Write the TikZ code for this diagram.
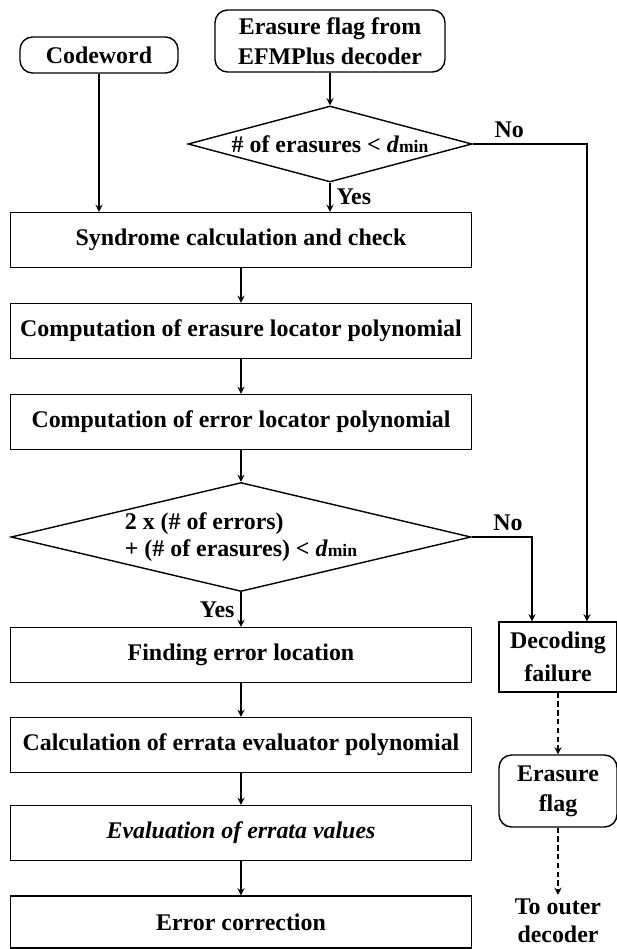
\documentclass[tikz,border=0pt]{standalone}
\usepackage{fontspec}
\setmainfont{Liberation Serif}
\usetikzlibrary{shapes.geometric}

\newcommand{\dmin}{\textit{d}{\fontsize{10}{12}\selectfont min}}

\begin{document}
\begin{tikzpicture}[x=0.02cm,y=-0.02cm,>=stealth,line width=0.8pt,
    every node/.style={font=\fontsize{13.6}{17}\selectfont\bfseries},
    box/.style={draw,minimum width=9.22cm,minimum height=1.1cm,inner sep=0},
    term/.style={draw,rounded corners=0.25cm,align=center,inner sep=0},
    test/.style={draw,diamond,inner sep=0}]
  \useasboundingbox (0,0) rectangle (617,949);

  \node[term,minimum width=3.16cm,minimum height=0.72cm] (1) at (99,55) {Codeword};
  \node[term,minimum width=4.6cm,minimum height=1.24cm] (2) at (330,41) {Erasure flag from\\EFMPlus decoder};
  \node[test,aspect=3.7,minimum width=5.68cm,minimum height=1.52cm] (3) at (330,144) {\# of erasures < \dmin};
  \node[box] (4) at (241,240) {Syndrome calculation and check};
  \node[box] (5) at (241,331) {Computation of erasure locator polynomial};
  \node[box] (6) at (241,422) {Computation of error locator polynomial};
  \node[test,aspect=4.2,minimum width=9.2cm,minimum height=2.18cm,align=left,
    font=\fontsize{13.6}{15.5}\selectfont\bfseries] (7) at (241,537)
    {2 x (\# of errors)\\+ (\# of erasures) < \dmin};
  \node[box] (8) at (241,655) {Finding error location};
  \node[box] (9) at (241,745) {Calculation of errata evaluator polynomial};
  \node[box,font=\fontsize{13.6}{17}\selectfont\bfseries\itshape] (10) at (241,833) {Evaluation of errata values};
  \node[box,minimum height=1.04cm] (11) at (241,922) {Error correction};
  \node[draw,align=center,inner sep=0,minimum width=2.36cm,minimum height=1.4cm,
    font=\fontsize{13.6}{19}\selectfont\bfseries] (12) at (558,657) {Decoding\\failure};
  \node[term,minimum width=2.36cm,minimum height=1.44cm] (13) at (558,791) {Erasure\\flag};
  \node[align=center,inner sep=2pt,font=\fontsize{13.6}{16}\selectfont\bfseries] (14) at (558,921) {To outer\\decoder};

  \draw[->] (2) -- (3);
  \draw[->] (1) -- (1 |- 4.north);
  \draw[->] (3) -- node[right] {Yes} (3 |- 4.north);
  \draw[->] (3) -| node[above,pos=0.16] {No} ([xshift=0.58cm]12.north);
  \draw[->] (4) -- (5);
  \draw[->] (5) -- (6);
  \draw[->] (6) -- (7);
  \draw[->] (7) -- node[left] {Yes} (8);
  \draw[->] (7) -| node[above,pos=0.3] {No} ([xshift=-0.52cm]12.north);
  \draw[->] (8) -- (9);
  \draw[->] (9) -- (10);
  \draw[->] (10) -- (11);
  \draw[->,dash pattern=on 3pt off 2pt] (12) -- (13);
  \draw[->,dash pattern=on 3pt off 2pt] (13) -- (14);
\end{tikzpicture}
\end{document}
